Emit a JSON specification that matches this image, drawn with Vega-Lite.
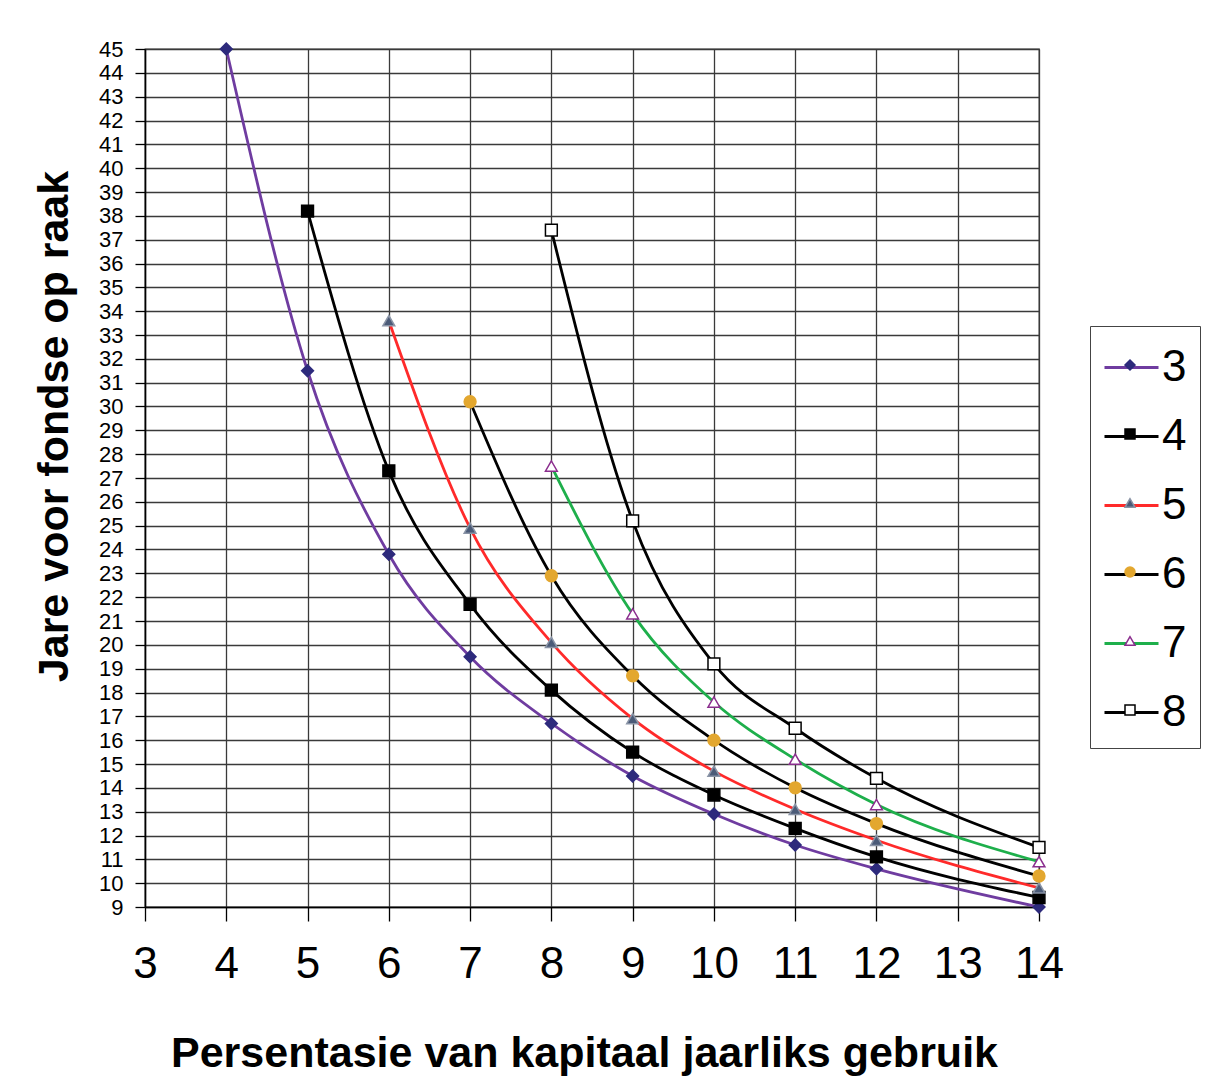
{
  "$schema": "https://vega.github.io/schema/vega-lite/v6.json",
  "width": 894,
  "height": 858,
  "autosize": {"type": "none"},
  "padding": {"left": 145, "top": 49, "right": 174, "bottom": 177},
  "background": "white",
  "config": {
    "font": "Liberation Sans",
    "view": {"stroke": "#3a3a3a", "strokeWidth": 1.3},
    "axis": {"gridColor": "#3a3a3a", "gridWidth": 1.3, "gridOpacity": 1, "domainColor": "#000000", "domainWidth": 1.5, "tickColor": "#000000", "tickWidth": 1.3, "labelColor": "#000000", "titleColor": "#000000", "labelFont": "Liberation Sans", "titleFont": "Liberation Sans"},
    "legend": {"labelFont": "Liberation Sans", "labelColor": "#000000"}
  },
  "data": {"values": [
    {"x": 4, "y": 45, "series": "3", "marker": "3"},
    {"x": 5, "y": 31.5, "series": "3", "marker": "3"},
    {"x": 6, "y": 23.8, "series": "3", "marker": "3"},
    {"x": 7, "y": 19.5, "series": "3", "marker": "3"},
    {"x": 8, "y": 16.7, "series": "3", "marker": "3"},
    {"x": 9, "y": 14.5, "series": "3", "marker": "3"},
    {"x": 10, "y": 12.9, "series": "3", "marker": "3"},
    {"x": 11, "y": 11.6, "series": "3", "marker": "3"},
    {"x": 12, "y": 10.6, "series": "3", "marker": "3"},
    {"x": 14, "y": 9.0, "series": "3", "marker": "3"},
    {"x": 5, "y": 38.2, "series": "4", "marker": "4"},
    {"x": 6, "y": 27.3, "series": "4", "marker": "4"},
    {"x": 7, "y": 21.7, "series": "4", "marker": "4"},
    {"x": 8, "y": 18.1, "series": "4", "marker": "4"},
    {"x": 9, "y": 15.5, "series": "4", "marker": "4"},
    {"x": 10, "y": 13.7, "series": "4", "marker": "4"},
    {"x": 11, "y": 12.3, "series": "4", "marker": "4"},
    {"x": 12, "y": 11.1, "series": "4", "marker": "4"},
    {"x": 14, "y": 9.4, "series": "4", "marker": "4"},
    {"x": 6, "y": 33.6, "series": "5", "marker": "5"},
    {"x": 7, "y": 24.9, "series": "5", "marker": "5"},
    {"x": 8, "y": 20.1, "series": "5", "marker": "5"},
    {"x": 9, "y": 16.9, "series": "5", "marker": "5"},
    {"x": 10, "y": 14.7, "series": "5", "marker": "5"},
    {"x": 11, "y": 13.1, "series": "5", "marker": "5"},
    {"x": 12, "y": 11.8, "series": "5", "marker": "5"},
    {"x": 14, "y": 9.8, "series": "5", "marker": "5"},
    {"x": 7, "y": 30.2, "series": "6", "marker": "6"},
    {"x": 8, "y": 22.9, "series": "6", "marker": "6"},
    {"x": 9, "y": 18.7, "series": "6", "marker": "6"},
    {"x": 10, "y": 16.0, "series": "6", "marker": "6"},
    {"x": 11, "y": 14.0, "series": "6", "marker": "6"},
    {"x": 12, "y": 12.5, "series": "6", "marker": "6"},
    {"x": 14, "y": 10.3, "series": "6", "marker": "6"},
    {"x": 8, "y": 27.5, "series": "7", "marker": "7"},
    {"x": 9, "y": 21.3, "series": "7", "marker": "7"},
    {"x": 10, "y": 17.6, "series": "7", "marker": "7"},
    {"x": 11, "y": 15.2, "series": "7", "marker": "7"},
    {"x": 12, "y": 13.3, "series": "7", "marker": "7"},
    {"x": 14, "y": 10.9, "series": "7", "marker": "7"},
    {"x": 8, "y": 37.4, "series": "8", "marker": "8"},
    {"x": 9, "y": 25.2, "series": "8", "marker": "8"},
    {"x": 10, "y": 19.2, "series": "8", "marker": "8"},
    {"x": 11, "y": 16.5, "series": "8", "marker": "8"},
    {"x": 12, "y": 14.4, "series": "8", "marker": "8"},
    {"x": 14, "y": 11.5, "series": "8", "marker": "8"}
  ]},
  "encoding": {
    "x": {
      "field": "x", "type": "quantitative",
      "scale": {"domain": [3, 14], "nice": false, "zero": false},
      "axis": {
        "values": [3, 4, 5, 6, 7, 8, 9, 10, 11, 12, 13, 14],
        "title": "Persentasie van kapitaal jaarliks gebruik",
        "titleFontSize": 43, "titleFontWeight": "bold", "titlePadding": 46, "titleX": 439,
        "labelFontSize": 44, "labelPadding": 21, "tickSize": 14,
        "grid": true, "labelFlush": false
      }
    },
    "y": {
      "field": "y", "type": "quantitative",
      "scale": {"domain": [9, 45], "nice": false, "zero": false},
      "axis": {
        "values": [9, 10, 11, 12, 13, 14, 15, 16, 17, 18, 19, 20, 21, 22, 23, 24, 25, 26, 27, 28, 29, 30, 31, 32, 33, 34, 35, 36, 37, 38, 39, 40, 41, 42, 43, 44, 45],
        "title": "Jare voor fondse op raak",
        "titleFontSize": 43, "titleFontWeight": "bold", "titlePadding": 22, "titleY": 377,
        "labelFontSize": 22, "labelPadding": 12, "tickSize": 10,
        "grid": true, "labelFlush": false, "labelOverlap": false
      }
    }
  },
  "layer": [
    {
      "mark": {"type": "line", "interpolate": "monotone", "strokeWidth": 2.8},
      "encoding": {
        "color": {
          "field": "series", "type": "nominal",
          "scale": {"domain": ["3", "4", "5", "6", "7", "8"], "range": ["#6F3CA0", "#000000", "#FF2A2A", "#000000", "#1EAF4B", "#000000"]},
          "legend": {
            "title": null, "orient": "none", "legendX": 945, "legendY": 277,
            "symbolType": "stroke", "symbolSize": 2916, "symbolStrokeWidth": 2.8,
            "labelFontSize": 44, "labelOffset": 2, "rowPadding": 18,
            "padding": 13, "strokeColor": "#444444", "fillColor": "white"
          }
        }
      }
    },
    {
      "mark": {"type": "point", "filled": true, "opacity": 1, "size": 140, "strokeWidth": 1.5},
      "encoding": {
        "shape": {
          "field": "marker", "type": "nominal",
          "scale": {"range": ["diamond", "square", "triangle-up", "circle", "triangle-up", "square"]},
          "legend": {"title": null, "orient": "none", "legendX": 950, "legendY": 281, "labelFontSize": 44, "labelOffset": 5, "rowPadding": 25, "padding": 13, "labelOpacity": 0, "labelExpr": "''", "symbolSize": 100}
        },
        "fill": {
          "field": "marker", "type": "nominal",
          "scale": {"range": ["#2D2A7C", "#000000", "#4B5B78", "#E3A72F", "#FFFFFF", "#FFFFFF"]},
          "legend": {"title": null, "orient": "none", "legendX": 950, "legendY": 281, "labelFontSize": 44, "labelOffset": 5, "rowPadding": 25, "padding": 13, "labelOpacity": 0, "labelExpr": "''", "symbolSize": 100}
        },
        "stroke": {
          "field": "marker", "type": "nominal",
          "scale": {"range": ["#2D2A7C", "#000000", "#8A94A6", "#E3A72F", "#8B2E8E", "#000000"]},
          "legend": {"title": null, "orient": "none", "legendX": 950, "legendY": 281, "labelFontSize": 44, "labelOffset": 5, "rowPadding": 25, "padding": 13, "labelOpacity": 0, "labelExpr": "''", "symbolSize": 100}
        }
      }
    }
  ]
}
